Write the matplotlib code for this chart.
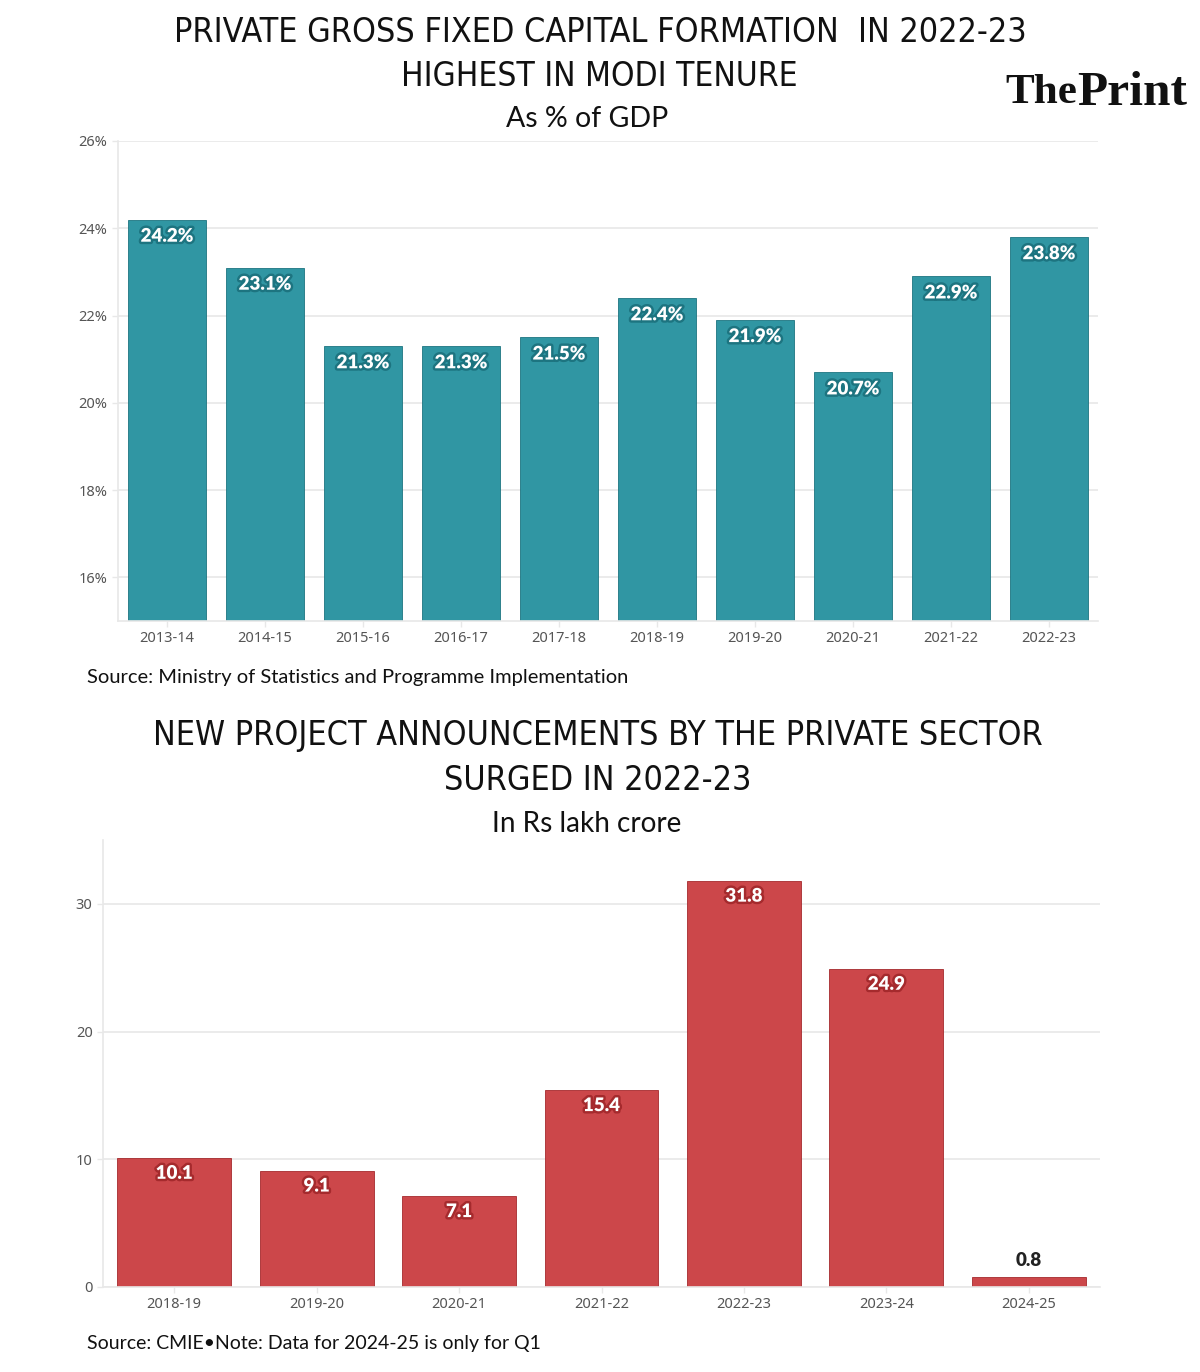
import numpy as np
import matplotlib.pyplot as plt
import matplotlib.patheffects as pe

# GFCF as % of GDP
years1 = ["2013-14", "2014-15", "2015-16", "2016-17", "2017-18",
          "2018-19", "2019-20", "2020-21", "2021-22", "2022-23"]
gfcf = [24.2, 23.1, 21.3, 21.3, 21.5, 22.4, 21.9, 20.7, 22.9, 23.8]

# new project announcements, Rs lakh crore
years2 = ["2018-19", "2019-20", "2020-21", "2021-22", "2022-23", "2023-24", "2024-25"]
projects = [10.1, 9.1, 7.1, 15.4, 31.8, 24.9, 0.8]

teal = "#3096a3"
teal_dark = "#1d7480"
red = "#cc474a"
red_dark = "#a52a2d"
grid_c = "#e8e8e8"
tick_c = "#555555"

W, H = 1200, 1372
fig = plt.figure(figsize=(W / 100, H / 100), dpi=100)
renderer = fig.canvas.get_renderer()

sub_font = "Lato"
tick_font = "Noto Sans"
label_font = "Lato"


def box(x0, y0, x1, y1):
    # pixel box -> figure fractions
    return [x0 / W, 1 - y1 / H, (x1 - x0) / W, (y1 - y0) / H]


def fit(t, width_px):
    # shrink/grow font so the text spans width_px
    w = t.get_window_extent(renderer).width
    t.set_fontsize(t.get_fontsize() * width_px / w)
    return t


def title(x, y, s, width_px):
    t = fig.text(x / W, 1 - y / H, s, ha="center", va="center", fontsize=30,
                 fontfamily="DejaVu Sans", fontstretch="condensed",
                 fontweight="light", color="#111111")
    return fit(t, width_px)


def note(x, y, s, width_px, ha="left", size=14):
    t = fig.text(x / W, 1 - y / H, s, ha=ha, va="center", fontsize=size,
                 fontfamily=sub_font, color="#111111")
    return fit(t, width_px)


def style_axes(ax):
    for s in ["top", "right"]:
        ax.spines[s].set_visible(False)
    ax.spines["left"].set_color(grid_c)
    ax.spines["bottom"].set_color(grid_c)
    ax.spines["left"].set_linewidth(1.2)
    ax.spines["bottom"].set_linewidth(1.2)
    ax.grid(axis="y", color=grid_c, linewidth=1.2)
    ax.set_axisbelow(True)
    ax.tick_params(axis="both", colors=grid_c, labelcolor=tick_c, length=4, width=1)
    for lab in ax.get_xticklabels() + ax.get_yticklabels():
        lab.set_fontfamily(tick_font)


# ---- top chart ----
ax1 = fig.add_axes(box(118, 141, 1098, 621))
x1 = np.arange(len(years1))
ax1.bar(x1, gfcf, width=0.8, color=teal, edgecolor=teal_dark, linewidth=0.6, zorder=2)
ax1.set_xlim(-0.5, len(years1) - 0.5)
ax1.set_ylim(15, 26)
ax1.set_yticks([16, 18, 20, 22, 24, 26])
ax1.set_yticklabels([f"{v}%" for v in [16, 18, 20, 22, 24, 26]], fontsize=10.5)
ax1.set_xticks(x1)
ax1.set_xticklabels(years1, fontsize=10.5)
style_axes(ax1)
for xi, v in zip(x1, gfcf):
    ax1.annotate(f"{v}%", (xi, v), xytext=(0, -12), textcoords="offset points",
                 ha="center", va="center", color="white", fontsize=13.5,
                 fontweight="heavy", fontfamily=label_font, zorder=3,
                 path_effects=[pe.withStroke(linewidth=3.5, foreground=teal_dark)])

# ---- bottom chart ----
ax2 = fig.add_axes(box(103, 840, 1100, 1287))
x2 = np.arange(len(years2))
ax2.bar(x2, projects, width=0.8, color=red, edgecolor=red_dark, linewidth=0.6, zorder=2)
ax2.set_xlim(-0.5, len(years2) - 0.5)
ax2.set_ylim(0, 35)
ax2.set_yticks([0, 10, 20, 30])
ax2.set_yticklabels(["0", "10", "20", "30"], fontsize=10.5)
ax2.set_xticks(x2)
ax2.set_xticklabels(years2, fontsize=10.5)
style_axes(ax2)
for xi, v in zip(x2, projects):
    if v < 3:
        ax2.annotate(f"{v}", (xi, v), xytext=(0, 12), textcoords="offset points",
                     ha="center", va="center", color="#222222", fontsize=13.5,
                     fontweight="heavy", fontfamily=label_font, zorder=3)
    else:
        ax2.annotate(f"{v}", (xi, v), xytext=(0, -11), textcoords="offset points",
                     ha="center", va="center", color="white", fontsize=13.5,
                     fontweight="heavy", fontfamily=label_font, zorder=3,
                     path_effects=[pe.withStroke(linewidth=3.5, foreground=red_dark)])

# ---- text ----
title(600, 32, "PRIVATE GROSS FIXED CAPITAL FORMATION  IN 2022-23", 852)
title(599, 76, "HIGHEST IN MODI TENURE", 395)
note(587, 119, "As % of GDP", 162, ha="center", size=20)
note(87, 677, "Source: Ministry of Statistics and Programme Implementation", 543)

title(598, 736, "NEW PROJECT ANNOUNCEMENTS BY THE PRIVATE SECTOR", 888)
title(598, 781, "SURGED IN 2022-23", 308)
note(587, 824, "In Rs lakh crore", 190, ha="center", size=20)
note(87, 1343, "Source: CMIE\u2022Note: Data for 2024-25 is only for Q1", 455)

# logo
t1 = fig.text(1005 / W, 1 - 93 / H, "The", ha="left", va="center", fontsize=36,
              fontfamily="Liberation Serif", fontweight="bold", color="#111111")
fit(t1, 72)
t2 = fig.text(1077 / W, 1 - 93 / H, "Print", ha="left", va="center", fontsize=36,
              fontfamily="Liberation Serif", fontweight="bold", color="#111111")
fit(t2, 110)

fig.savefig("out.png", dpi=100)
